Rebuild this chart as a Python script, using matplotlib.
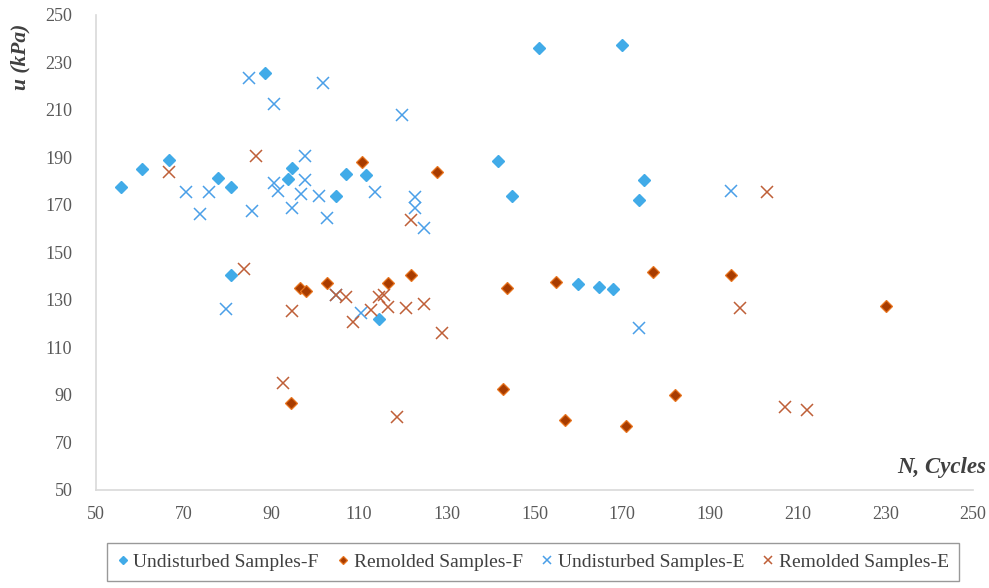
import matplotlib.pyplot as plt

plt.rcParams["font.family"] = ["Liberation Serif", "DejaVu Serif"]

# N (cycles) and u (kPa) for each sample group
undist_f_n = [55.7, 60.4, 66.6, 77.8, 80.9, 80.9, 88.6, 94.7, 93.7, 104.8, 106.9,
              111.6, 114.6, 141.7, 144.8, 150.9, 169.9, 174.9, 173.9, 160.0, 164.7, 167.8]
undist_f_u = [177.4, 185.0, 188.8, 181.2, 177.4, 140.5, 225.7, 185.6, 181.0, 173.7, 183.1,
              182.4, 121.9, 188.6, 173.6, 236.1, 237.5, 180.5, 172.1, 136.7, 135.5, 134.6]

remold_f_n = [110.6, 127.8, 96.6, 97.9, 102.7, 116.7, 94.5, 121.8, 143.7, 154.9,
              176.9, 142.7, 157.0, 170.8, 182.0, 194.8, 230.2]
remold_f_u = [187.9, 183.7, 135.1, 133.5, 136.9, 136.9, 86.6, 140.5, 134.8, 137.3,
              141.7, 92.2, 79.2, 76.6, 89.8, 140.5, 127.3]

undist_e_n = [84.9, 90.6, 101.8, 97.7, 70.6, 75.7, 73.7, 85.5, 90.6, 91.6, 97.7, 96.7,
              94.6, 100.8, 102.6, 113.6, 119.7, 122.7, 122.7, 124.7, 79.7, 110.4,
              104.7, 173.9, 194.9]
undist_e_u = [223.6, 212.5, 221.2, 190.6, 175.4, 175.4, 166.0, 167.4, 179.3, 175.9, 180.5,
              174.6, 168.5, 173.7, 164.3, 175.5, 207.9, 173.4, 168.5, 160.3, 126.1, 124.5,
              132.0, 117.9, 175.9]

remold_e_n = [66.6, 86.5, 83.8, 94.6, 92.6, 107.0, 108.7, 112.6, 114.6, 115.7, 116.7,
              120.7, 124.8, 128.8, 118.7, 121.8, 203.0, 196.9, 207.1, 212.1, 104.7]
remold_e_u = [183.7, 190.6, 142.9, 125.4, 94.8, 131.0, 120.5, 125.7, 131.0, 132.0, 127.0,
              126.4, 128.1, 116.0, 80.4, 163.6, 175.4, 126.6, 84.8, 83.4, 132.0]

x_ticks = list(range(50, 251, 20))
y_ticks = list(range(50, 251, 20))

fig = plt.figure(figsize=(9.89, 5.88), dpi=100)
ax = fig.add_axes([0.097, 0.1675, 0.887, 0.807])

ax.plot(undist_f_n, undist_f_u, "D", ms=6.5, color="#41ABE8", mec="#41ABE8",
        label="Undisturbed Samples-F")
ax.plot(remold_f_n, remold_f_u, "D", ms=6.0, color="#A83C00", mec="#E8741E",
        mew=0.9, label="Remolded Samples-F")
ax.plot(undist_e_n, undist_e_u, "x", ms=9, mew=1.1, color="#4A9FE8",
        label="Undisturbed Samples-E")
ax.plot(remold_e_n, remold_e_u, "x", ms=9, mew=1.1, color="#BF5F38",
        label="Remolded Samples-E")

ax.set_xlim(50, 250)
ax.set_ylim(50, 250)
ax.set_xticks(x_ticks)
ax.set_yticks(y_ticks)
ax.tick_params(length=0, labelsize=13, labelcolor="#595959")
ax.tick_params(axis="y", pad=17)
ax.tick_params(axis="x", pad=12)
for side in ("top", "right"):
    ax.spines[side].set_visible(False)
for side in ("left", "bottom"):
    ax.spines[side].set_color("#D9D9D9")
    ax.spines[side].set_linewidth(1.2)

fig.text(20 / 989, 1 - 57 / 588, "u (kPa)", rotation=90, ha="center", va="center",
         fontsize=15.5, fontweight="bold", fontstyle="italic", color="#404040")
fig.text(986 / 989, 1 - 468 / 588, "N, Cycles", ha="right", va="center",
         fontsize=16.5, fontweight="bold", fontstyle="italic", color="#404040")

leg = fig.legend(loc="center", bbox_to_anchor=(533 / 989, 1 - 562 / 588), ncol=4,
                 fontsize=14, frameon=True, fancybox=False, edgecolor="#808080",
                 markerscale=0.65, handlelength=0.6, handletextpad=0.25,
                 columnspacing=0.95, borderpad=0.5)
leg.get_frame().set_linewidth(1.0)
for t in leg.get_texts():
    t.set_color("#404040")

fig.savefig("out.png", dpi=100)
